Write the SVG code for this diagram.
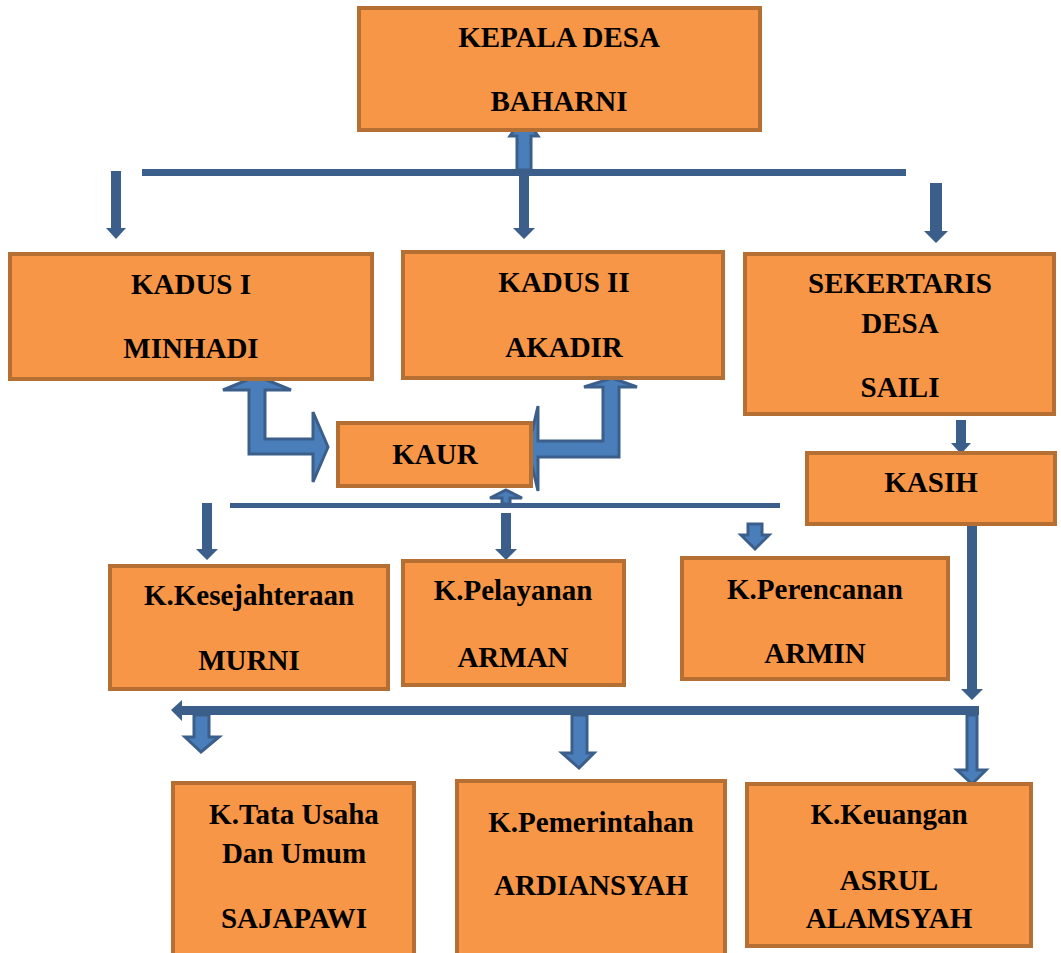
<svg xmlns="http://www.w3.org/2000/svg" width="1061" height="953" viewBox="0 0 1061 953">
<style>
.box{fill:#F79646;stroke:#B56F33;stroke-width:4}
text{font-family:'Liberation Serif','DejaVu Serif',serif;font-weight:700;font-size:29px;fill:#000;text-anchor:middle}
.dk{fill:#3B5F8A}
.lt{fill:#4A7EBB;stroke:#3B5F8A;stroke-width:3;stroke-linejoin:miter}
</style>
<rect width="1061" height="953" fill="#fff"/>
<g id="connectors">
<rect class="dk" x="142" y="169" width="764" height="7"/>
<polygon class="lt" points="524,116 538,136 531,136 531,170 517,170 517,136 510,136"/>
<polygon class="dk" points="519,176 529,176 529,228 535,228 524,239 513,228 519,228"/>
<polygon class="dk" points="111,171 121,171 121,228 126,228 116,239 106,228 111,228"/>
<polygon class="dk" points="930,183 942,183 942,231 948,231 936,243 924,231 930,231"/>
<polygon class="lt" points="257,376 291,390 265,390 265,439 313,439 313,412 328,447 313,482 313,454 249,454 249,390 223,390"/>
<polygon class="lt" points="612,378 637,387 619,387 619,457 538,457 538,491 528,449 538,406 538,441 603,441 603,387 584,387"/>
<polygon class="lt" points="506,490 522,498 510,498 510,504 502,504 502,498 490,498"/>
<rect class="dk" x="230" y="503" width="550" height="5"/>
<polygon class="dk" points="202,503 212,503 212,549 218,549 207,560 196,549 202,549"/>
<polygon class="dk" points="501,513 511,513 511,549 517,549 506,560 495,549 501,549"/>
<polygon class="lt" points="748,524 762,524 762,535 769,535 755,549 741,535 748,535"/>
<polygon class="dk" points="956,420 966,420 966,443 971,443 961,454 951,443 956,443"/>
<polygon class="dk" points="967,524 977,524 977,689 983,689 972,700 961,689 967,689"/>
<polygon class="dk" points="171,710 182,700 182,706 979,706 979,715 182,715 182,721"/>
<polygon class="lt" points="194,715 209,715 209,737 219,737 201,752 185,737 194,737"/>
<polygon class="lt" points="572,715 587,715 587,753 594,753 579,768 562,753 572,753"/>
<polygon class="lt" points="967,715 977,715 977,770 986,770 972,784 957,770 967,770"/>
</g>
<g id="kepala"><rect class="box" x="359" y="8" width="401" height="122"/><text x="559" y="47">KEPALA DESA</text><text x="559" y="111">BAHARNI</text></g>
<g id="kadus1"><rect class="box" x="10" y="254" width="362" height="125"/><text x="191" y="294">KADUS I</text><text x="191" y="358">MINHADI</text></g>
<g id="kadus2"><rect class="box" x="403" y="252" width="320" height="126"/><text x="564" y="292">KADUS II</text><text x="564" y="357">AKADIR</text></g>
<g id="sekertaris"><rect class="box" x="745" y="254" width="309" height="160"/><text x="900" y="293">SEKERTARIS</text><text x="900" y="333">DESA</text><text x="900" y="397">SAILI</text></g>
<g id="kaur"><rect class="box" x="338" y="423" width="193" height="63"/><text x="435" y="464">KAUR</text></g>
<g id="kasih"><rect class="box" x="807" y="453" width="248" height="71"/><text x="931" y="492">KASIH</text></g>
<g id="kesejahteraan"><rect class="box" x="110" y="566" width="278" height="123"/><text x="249" y="605">K.Kesejahteraan</text><text x="249" y="670">MURNI</text></g>
<g id="pelayanan"><rect class="box" x="403" y="561" width="221" height="124"/><text x="513" y="600">K.Pelayanan</text><text x="513" y="667">ARMAN</text></g>
<g id="perencanan"><rect class="box" x="682" y="558" width="266" height="121"/><text x="815" y="599">K.Perencanan</text><text x="815" y="663">ARMIN</text></g>
<g id="tatausaha"><rect class="box" x="173" y="783" width="241" height="175"/><text x="294" y="824">K.Tata Usaha</text><text x="294" y="863">Dan Umum</text><text x="294" y="928">SAJAPAWI</text></g>
<g id="pemerintahan"><rect class="box" x="457" y="781" width="268" height="175"/><text x="591" y="832">K.Pemerintahan</text><text x="591" y="895">ARDIANSYAH</text></g>
<g id="keuangan"><rect class="box" x="747" y="784" width="284" height="162"/><text x="889" y="824">K.Keuangan</text><text x="889" y="890">ASRUL</text><text x="889" y="928">ALAMSYAH</text></g>
</svg>
